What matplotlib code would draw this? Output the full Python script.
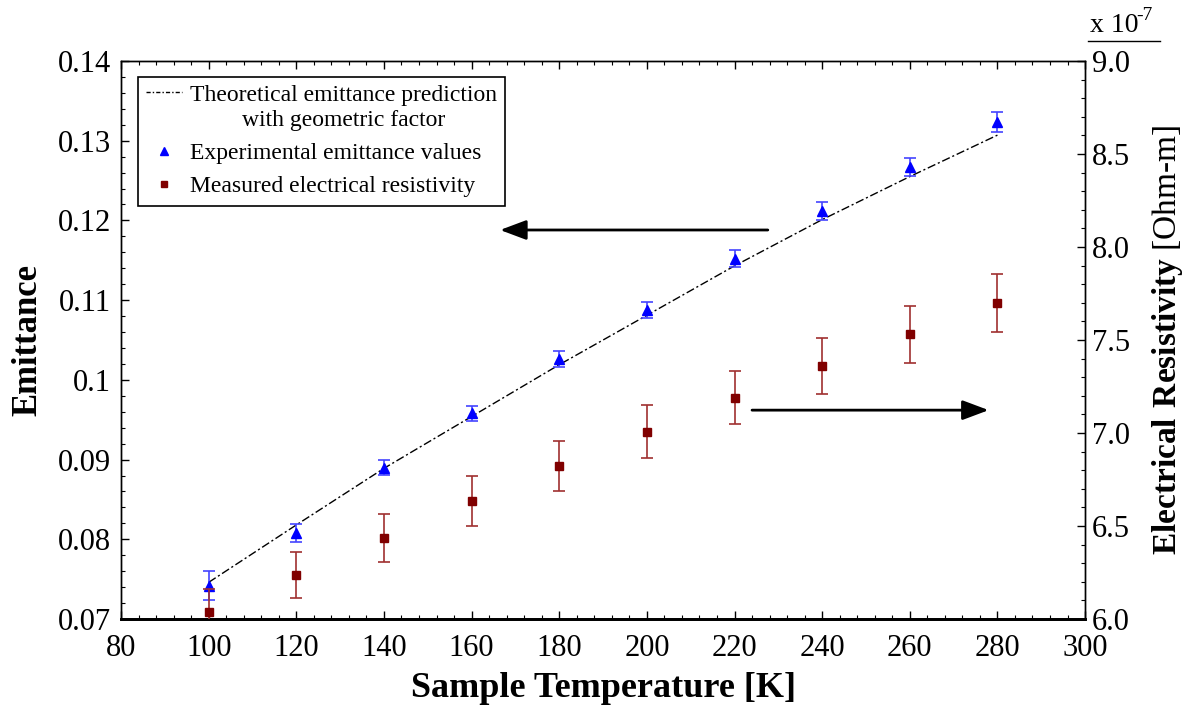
import matplotlib
matplotlib.use('Agg')
import matplotlib.pyplot as plt
from matplotlib.ticker import MultipleLocator, FuncFormatter
from matplotlib.lines import Line2D
from matplotlib.legend_handler import HandlerLine2D

plt.rcParams['font.family'] = ['Liberation Serif', 'DejaVu Serif']
plt.rcParams['mathtext.fontset'] = 'custom'
plt.rcParams['mathtext.rm'] = 'Liberation Serif'
plt.rcParams['mathtext.bf'] = 'Liberation Serif:bold'

# Data
temperature = [100, 120, 140, 160, 180, 200, 220, 240, 260, 280]
emit_theory = [0.0746, 0.0818, 0.0889, 0.0954, 0.1019, 0.1081, 0.1143, 0.1201, 0.1255, 0.1307]
emit_exp = [0.0742, 0.0808, 0.0890, 0.0958, 0.1026, 0.1088, 0.1152, 0.1212, 0.1267, 0.1323]
emit_err = [0.0018, 0.0011, 0.00095, 0.00094, 0.0010, 0.0010, 0.0011, 0.00117, 0.00113, 0.00125]
resistivity = [6.04e-7, 6.237e-7, 6.437e-7, 6.634e-7, 6.823e-7, 7.007e-7, 7.19e-7, 7.362e-7, 7.532e-7, 7.697e-7]
res_err = [0.12e-7, 0.125e-7, 0.13e-7, 0.134e-7, 0.136e-7, 0.141e-7, 0.144e-7, 0.15e-7, 0.153e-7, 0.156e-7]


# puts the legend line next to the first line of a two-line label
class FirstLineHandler(HandlerLine2D):
    def create_artists(self, legend, orig_handle, xdescent, ydescent, width,
                       height, fontsize, trans):
        return super().create_artists(legend, orig_handle, xdescent,
                                      ydescent - 1.35 * fontsize, width, height,
                                      fontsize, trans)


fig = plt.figure(figsize=(11.95, 7.11), dpi=100)
ax = fig.add_axes([0.1013, 0.1294, 0.8067, 0.7848])
ax2 = ax.twinx()

# theory line and experimental emittance
ax.plot(temperature, emit_theory, color='black', lw=1.0,
        linestyle=(0, (6, 2, 1.5, 2)), zorder=2)
ax.errorbar(temperature, emit_exp, yerr=emit_err, fmt='none', ecolor='#4444ff',
            elinewidth=1.2, capsize=4, capthick=1.2, zorder=3)
ax.plot(temperature, emit_exp, linestyle='none', marker='^', color='#0000ff',
        markersize=7, zorder=4)

# resistivity
ax2.errorbar(temperature, resistivity, yerr=res_err, fmt='none', ecolor='#a03030',
             elinewidth=1.2, capsize=4, capthick=1.2, zorder=3)
ax2.plot(temperature, resistivity, linestyle='none', marker='s', color='#800000',
         markersize=5.5, zorder=4)

ax.set_xlim(80, 300)
ax.set_ylim(0.07, 0.14)
ax2.set_ylim(6.0e-7, 9.0e-7)

ax.xaxis.set_major_locator(MultipleLocator(20))
ax.xaxis.set_minor_locator(MultipleLocator(4))
ax.yaxis.set_major_locator(MultipleLocator(0.01))
ax.yaxis.set_minor_locator(MultipleLocator(0.002))
ax2.yaxis.set_major_locator(MultipleLocator(0.5e-7))
ax2.yaxis.set_minor_locator(MultipleLocator(0.1e-7))

ax.yaxis.set_major_formatter(FuncFormatter(lambda v, p: '0.1' if abs(v - 0.1) < 1e-9 else '%.2f' % v))
ax2.yaxis.set_major_formatter(FuncFormatter(lambda v, p: '%.1f' % (v / 1e-7)))

ax.tick_params(which='both', direction='in', top=True, labelsize=22)
ax.tick_params(axis='x', pad=11)
ax.tick_params(axis='y', pad=7)
ax.tick_params(which='major', length=6, width=1)
ax.tick_params(which='minor', length=3, width=0.8)
ax2.tick_params(which='both', direction='in', labelsize=22, pad=5)
ax2.tick_params(which='major', length=6, width=1)
ax2.tick_params(which='minor', length=3, width=0.8)

for a in (ax, ax2):
    for s in a.spines.values():
        s.set_linewidth(1.0)
    a.spines['bottom'].set_linewidth(2.0)

ax.set_xlabel('Sample Temperature [K]', fontsize=26, fontweight='bold', labelpad=6)
ax.set_ylabel('Emittance', fontsize=25, fontweight='bold', labelpad=10)
ax2.set_ylabel(r'$\mathbf{Electrical\ Resistivity}$ [Ohm-m]', fontsize=24, labelpad=14)

# multiplier on the right axis
fig.text(1090 / 1195, 1 - 26 / 711, 'x 10', fontsize=20, ha='left', va='center')
fig.text(1136 / 1195, 1 - 16 / 711, '-7', fontsize=14, ha='left', va='center')
fig.add_artist(Line2D([1088 / 1195, 1160 / 1195], [1 - 41 / 711, 1 - 41 / 711],
                      color='black', lw=1.0))

# arrows pointing to the axes each series uses
ax.annotate('', xy=(166.5, 0.1188), xytext=(227.6, 0.1188),
            arrowprops=dict(arrowstyle='-|>,head_length=0.8,head_width=0.3',
                            color='black', lw=2, mutation_scale=20,
                            shrinkA=0, shrinkB=0))
ax.annotate('', xy=(278.0, 0.0962), xytext=(224.0, 0.0962),
            arrowprops=dict(arrowstyle='-|>,head_length=0.8,head_width=0.3',
                            color='black', lw=2, mutation_scale=20,
                            shrinkA=0, shrinkB=0))

# legend
theory_handle = Line2D([], [], color='black', lw=1.0, linestyle=(0, (3, 1.5, 1, 1.5)))
handles = [
    theory_handle,
    Line2D([], [], linestyle='none', marker='^', color='#0000ff', markersize=6),
    Line2D([], [], linestyle='none', marker='s', color='#800000', markersize=5),
]
labels = ['Theoretical emittance prediction\nwith geometric factor',
          'Experimental emittance values',
          'Measured electrical resistivity']
leg = ax.legend(handles, labels, loc='upper left', bbox_to_anchor=(0.0176, 0.971),
                borderaxespad=0, fontsize=17, frameon=True, fancybox=False,
                edgecolor='black', framealpha=1, handlelength=1.5, handletextpad=0.35,
                labelspacing=0.5, borderpad=0.35,
                handler_map={theory_handle: FirstLineHandler()})
leg.get_frame().set_linewidth(1.2)
for t in leg.get_texts():
    t.set_multialignment('center')

fig.savefig('out.png', dpi=100)
